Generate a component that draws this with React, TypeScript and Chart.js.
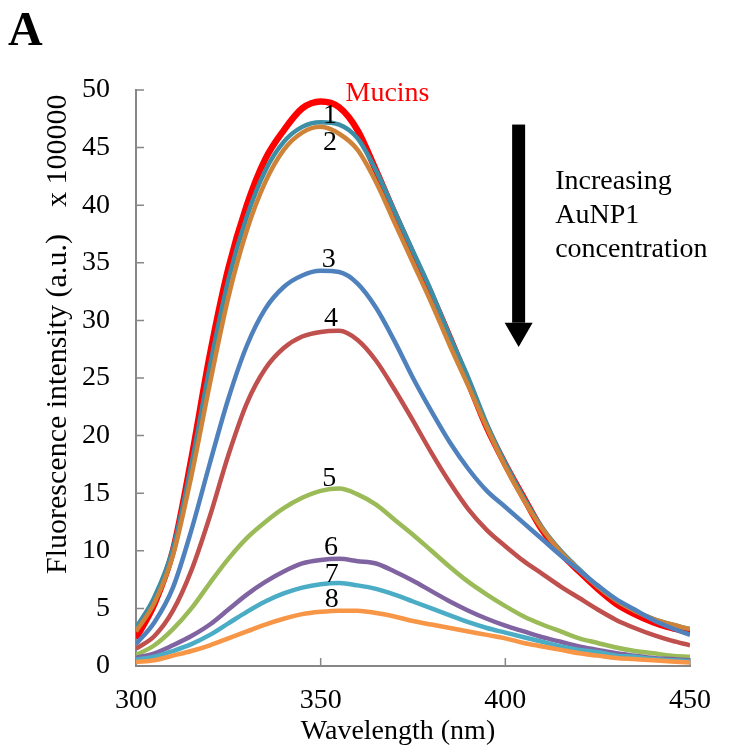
import React, { useEffect, useRef } from 'react';
import { Chart, registerables } from 'chart.js';

Chart.register(...registerables);

// ---- data ----
const wavelengths = [300, 305, 310, 315, 320, 325, 330, 335, 340, 345, 350, 355, 360, 365, 370, 375, 380, 385, 390, 395, 400, 405, 410, 415, 420, 425, 430, 435, 440, 445, 450];

const mucins = [2.4, 5.4, 10.0, 18.0, 27.0, 34.5, 40.0, 44.0, 46.5, 48.4, 49.0, 48.5, 46.5, 43.0, 39.3, 35.7, 32.2, 28.5, 24.6, 20.7, 17.5, 14.6, 11.8, 9.8, 8.2, 6.7, 5.4, 4.5, 3.8, 3.3, 2.9];
const sample1 = [3.3, 6.0, 10.2, 17.5, 26.0, 33.5, 39.0, 43.0, 45.5, 46.8, 47.2, 47.0, 45.8, 43.0, 39.5, 36.0, 32.5, 28.6, 25.0, 21.0, 17.6, 14.6, 12.0, 10.0, 8.4, 6.9, 5.7, 4.8, 4.1, 3.6, 3.2];
const sample2 = [3.0, 5.5, 9.6, 16.5, 24.5, 32.0, 37.8, 42.0, 44.8, 46.3, 46.8, 46.2, 44.8, 42.0, 38.5, 35.0, 31.5, 27.8, 24.3, 20.7, 17.3, 14.4, 11.9, 9.9, 8.3, 6.9, 5.7, 4.8, 4.1, 3.6, 3.2];
const sample3 = [1.9, 3.8, 6.8, 11.8, 17.6, 23.2, 27.8, 31.0, 32.9, 33.9, 34.3, 34.2, 33.2, 31.1, 28.2, 25.0, 22.1, 19.4, 17.1, 15.2, 13.8, 12.4, 11.0, 9.6, 8.3, 7.0, 5.8, 4.9, 4.0, 3.3, 2.7];
const sample4 = [1.5, 2.6, 4.8, 8.3, 13.0, 18.3, 22.8, 25.8, 27.6, 28.6, 29.0, 29.1, 28.3, 26.5, 24.0, 21.3, 18.5, 15.9, 13.6, 11.8, 10.4, 9.1, 8.0, 6.9, 5.9, 4.9, 4.0, 3.3, 2.7, 2.2, 1.8];
const sample5 = [0.95, 1.8, 3.2, 5.0, 7.2, 9.3, 11.1, 12.5, 13.7, 14.6, 15.2, 15.4, 14.9, 14.0, 12.7, 11.4, 10.0, 8.6, 7.3, 6.2, 5.2, 4.3, 3.6, 3.0, 2.4, 2.0, 1.6, 1.3, 1.1, 0.9, 0.8];
const sample6 = [0.7, 1.1, 1.8, 2.6, 3.6, 4.9, 6.2, 7.3, 8.2, 8.9, 9.2, 9.3, 9.1, 8.9, 8.2, 7.4, 6.5, 5.6, 4.8, 4.1, 3.5, 3.0, 2.5, 2.1, 1.7, 1.4, 1.1, 0.9, 0.7, 0.6, 0.5];
const sample7 = [0.55, 0.8, 1.3, 1.9, 2.7, 3.7, 4.7, 5.6, 6.3, 6.8, 7.1, 7.2, 7.0, 6.7, 6.2, 5.6, 5.0, 4.4, 3.8, 3.3, 2.9, 2.5, 2.1, 1.7, 1.4, 1.2, 0.9, 0.8, 0.6, 0.5, 0.4];
const sample8 = [0.35, 0.5, 0.9, 1.3, 1.8, 2.4, 3.0, 3.6, 4.1, 4.5, 4.7, 4.8, 4.8, 4.6, 4.3, 3.9, 3.6, 3.3, 3.0, 2.7, 2.4, 2.0, 1.7, 1.4, 1.1, 0.9, 0.7, 0.6, 0.5, 0.4, 0.3];

const seriesNames = ['Mucins', '1', '2', '3', '4', '5', '6', '7', '8'];
const seriesValues = [mucins, sample1, sample2, sample3, sample4, sample5, sample6, sample7, sample8];
const seriesColors = ['#ff0000', '#3b8ea5', '#cf8339', '#4f81bd', '#c0504d', '#9bbb59', '#8064a2', '#4bacc6', '#f79646'];
const seriesWidths = [6.5, 4.5, 4.5, 4.5, 4.5, 4.5, 4.5, 4.5, 4.5];

const xTickValues = [300, 350, 400, 450];
const yTickValues = [0, 5, 10, 15, 20, 25, 30, 35, 40, 45, 50];

// curve labels in data coordinates (wavelength, intensity at text baseline)
const curveLabels = [
  { text: 'Mucins', x: 368.1, y: 49.05, color: '#ff0000' },
  { text: '1', x: 352.5, y: 47.1, color: '#000' },
  { text: '2', x: 352.5, y: 44.8, color: '#000' },
  { text: '3', x: 352.2, y: 34.6, color: '#000' },
  { text: '4', x: 352.8, y: 29.5, color: '#000' },
  { text: '5', x: 352.3, y: 15.6, color: '#000' },
  { text: '6', x: 352.8, y: 9.6, color: '#000' },
  { text: '7', x: 353.0, y: 7.3, color: '#000' },
  { text: '8', x: 353.0, y: 5.1, color: '#000' },
];
const noteLines = ['Increasing', 'AuNP1', 'concentration'];

const SERIF = '"Liberation Serif", "Times New Roman", serif';

const decorPlugin = {
  id: 'decor',
  beforeDatasetsDraw(chart: any) {
    const { ctx, chartArea, scales } = chart;
    ctx.save();
    ctx.strokeStyle = '#878787';
    ctx.lineWidth = 1.5;
    ctx.beginPath();
    for (const v of yTickValues) {
      const y = scales.y.getPixelForValue(v);
      ctx.moveTo(chartArea.left, y);
      ctx.lineTo(chartArea.left + 8, y);
    }
    for (const v of xTickValues) {
      const x = scales.x.getPixelForValue(v);
      ctx.moveTo(x, chartArea.bottom);
      ctx.lineTo(x, chartArea.bottom - 8);
    }
    ctx.stroke();
    ctx.restore();
  },
  afterDraw(chart: any) {
    const { ctx, scales } = chart;
    const xs = scales.x;
    const ys = scales.y;
    ctx.save();
    // panel letter
    ctx.fillStyle = '#000';
    ctx.font = `bold 48px ${SERIF}`;
    ctx.textAlign = 'left';
    ctx.textBaseline = 'alphabetic';
    ctx.fillText('A', 8, 45);

    // curve labels
    ctx.font = `28px ${SERIF}`;
    ctx.textAlign = 'center';
    for (const l of curveLabels) {
      ctx.fillStyle = l.color;
      ctx.fillText(l.text, xs.getPixelForValue(l.x), ys.getPixelForValue(l.y));
    }

    // arrow
    const ax = xs.getPixelForValue(403.6);
    const aTop = ys.getPixelForValue(47.0);
    const aHead = ys.getPixelForValue(29.8);
    const aTip = ys.getPixelForValue(27.7);
    ctx.fillStyle = '#000';
    ctx.fillRect(ax - 6.5, aTop, 13, aHead - aTop);
    ctx.beginPath();
    ctx.moveTo(ax - 14, aHead);
    ctx.lineTo(ax + 14, aHead);
    ctx.lineTo(ax, aTip);
    ctx.closePath();
    ctx.fill();

    // note text
    ctx.textAlign = 'left';
    const noteX = xs.getPixelForValue(413.5);
    const noteBase = ys.getPixelForValue(41.4);
    noteLines.forEach((t, i) => ctx.fillText(t, noteX, noteBase + i * 34));

    // axis titles
    ctx.font = `28px ${SERIF}`;
    ctx.textAlign = 'center';
    ctx.fillText('Wavelength (nm)', 398, 739);

    ctx.font = `30px ${SERIF}`;
    ctx.translate(66, 0);
    ctx.rotate(-Math.PI / 2);
    ctx.textAlign = 'left';
    ctx.fillText('Fluorescence intensity (a.u.)', -574, 0);
    ctx.fillText('x 100000', -207, 0);
    ctx.restore();
  },
};

export default function App() {
  const ref = useRef<HTMLCanvasElement>(null);
  useEffect(() => {
    document.body.style.margin = '0';
    const canvas = ref.current;
    if (!canvas) return;
    const datasets = seriesNames.map((name, i) => ({
      label: name,
      data: wavelengths.map((w, j) => ({ x: w, y: seriesValues[i][j] })),
      borderColor: seriesColors[i],
      backgroundColor: seriesColors[i],
      borderWidth: seriesWidths[i],
      pointRadius: 0,
      cubicInterpolationMode: 'monotone' as const,
      fill: false,
      order: 20 - i,
    }));
    const chart = new Chart(canvas, {
      type: 'line',
      data: { datasets },
      options: {
        animation: false,
        responsive: false,
        layout: { padding: { left: 0, top: 90, right: 44, bottom: 0 } },
        plugins: { legend: { display: false }, tooltip: { enabled: false }, title: { display: false } },
        scales: {
          x: {
            type: 'linear',
            min: 300,
            max: 450,
            afterBuildTicks: (s: any) => { s.ticks = xTickValues.map((v) => ({ value: v })); },
            afterFit: (s: any) => { s.height = 83; },
            grid: { display: false, drawTicks: false },
            border: { display: true, color: '#878787', width: 2 },
            ticks: { color: '#000', font: { family: SERIF, size: 28 }, padding: 18, maxRotation: 0, autoSkip: false },
          },
          y: {
            type: 'linear',
            min: 0,
            max: 50,
            afterBuildTicks: (s: any) => { s.ticks = yTickValues.map((v) => ({ value: v })); },
            afterFit: (s: any) => { s.width = 136; },
            grid: { display: false, drawTicks: false },
            border: { display: true, color: '#878787', width: 2 },
            ticks: { color: '#000', font: { family: SERIF, size: 28 }, padding: 26, autoSkip: false },
          },
        },
      },
      plugins: [decorPlugin],
    });
    return () => chart.destroy();
  }, []);
  return <canvas ref={ref} width={734} height={749} style={{ display: 'block' }} />;
}
